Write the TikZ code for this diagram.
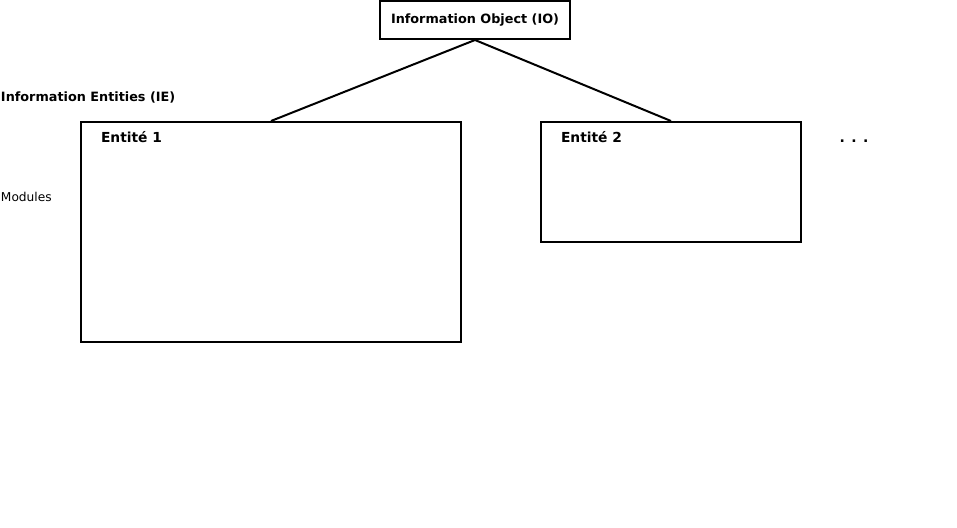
\documentclass[tikz,border=0pt]{standalone}
\usepackage{fontspec}
\setmainfont{DejaVu Sans}
\usetikzlibrary{positioning}

\tikzset{
  entbox/.style={draw,line width=2pt,inner sep=0pt,anchor=north west},
  boxtitle/.style={anchor=west,inner sep=0pt,font=\fontsize{13.8}{16}\selectfont\bfseries},
  sidetext/.style={anchor=west,inner sep=0pt}
}

\begin{document}
\begin{tikzpicture}[x=1pt,y=-1pt,font=\fontsize{12.8}{15}\selectfont,line width=2pt]
    \useasboundingbox (0,0) rectangle (957,527);
    \node [draw,minimum width=190pt,minimum height=38pt,inner sep=0pt,font=\fontsize{12.8}{15}\selectfont\bfseries] (io) at (475,20) {Information Object (IO)};
    \node [sidetext,font=\fontsize{12.8}{15}\selectfont\bfseries] (ie) at (0,97) {Information Entities (IE)};
    \node [sidetext,font=\fontsize{12.2}{15}\selectfont] (mod) at (0,197) {Modules};
    \node [entbox,minimum width=380pt,minimum height=220pt] (e1) at (80,121) {};
    \node [boxtitle] (t1) at (100,137) {Entité 1};
    \node [entbox,minimum width=260pt,minimum height=120pt] (e2) at (540,121) {};
    \node [boxtitle] (t2) at (560,137) {Entité 2};
    \node [anchor=base,inner sep=0pt,font=\fontsize{14}{16}\selectfont\bfseries] (more) at (854,142) {. . .};
    \draw (io.south) -- (e1.north);
    \draw (io.south) -- (e2.north);
  \end{tikzpicture}
\end{document}
